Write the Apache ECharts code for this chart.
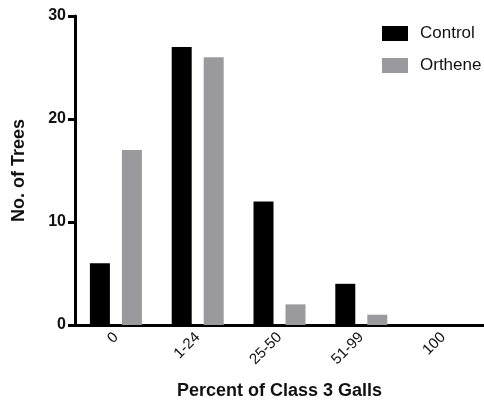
<!DOCTYPE html>
<html>
<head>
<meta charset="utf-8">
<script src="https://cdn.jsdelivr.net/npm/echarts@6/dist/echarts.min.js"></script>
<style>
  html, body { margin: 0; padding: 0; background: #fff; }
  #chart { width: 484px; height: 405px; }
</style>
</head>
<body>
<div id="chart"></div>
<script>
// Gall severity classes and tree counts per treatment
const categories = ['0', '1-24', '25-50', '51-99', '100'];
const controlTrees = [6, 27, 12, 4, 0];
const ortheneTrees = [17, 26, 2, 1, 0];
const yTicks = [0, 10, 20, 30];

const FONT = '"Liberation Sans", Arial, sans-serif';

const chart = echarts.init(document.getElementById('chart'));
chart.setOption({
  animation: false,
  backgroundColor: '#fff',
  textStyle: { fontFamily: FONT },
  legend: {
    left: 377,
    top: 20,
    orient: 'vertical',
    itemWidth: 26,
    itemHeight: 15,
    itemGap: 15,
    icon: 'rect',
    textStyle: { fontFamily: FONT, fontSize: 17, color: '#111', padding: [0, 0, 0, 7] },
    data: ['Control', 'Orthene']
  },
  grid: { left: 75, right: 0, top: 16, bottom: 80, containLabel: false },
  xAxis: {
    type: 'category',
    data: categories,
    name: 'Percent of Class 3 Galls',
    nameLocation: 'middle',
    nameGap: 57,
    nameTextStyle: { fontFamily: FONT, fontSize: 18, fontWeight: 'bold', color: '#111' },
    axisLine: { lineStyle: { color: '#000', width: 3 } },
    axisTick: { alignWithLabel: true, length: 6, lineStyle: { color: '#000', width: 3 } },
    axisLabel: { rotate: 45, margin: 10, fontFamily: FONT, fontSize: 15, color: '#111' }
  },
  yAxis: {
    type: 'value',
    min: 0,
    max: yTicks[yTicks.length - 1],
    interval: 10,
    name: 'No. of Trees',
    nameLocation: 'middle',
    nameGap: 47,
    nameTextStyle: { fontFamily: FONT, fontSize: 18, fontWeight: 'bold', color: '#111' },
    axisLine: { show: true, lineStyle: { color: '#000', width: 3 } },
    axisTick: { show: true, length: 7, lineStyle: { color: '#000', width: 3 } },
    axisLabel: { margin: 9, fontFamily: FONT, fontSize: 16, fontWeight: 'bold', color: '#111' },
    splitLine: { show: false }
  },
  series: [
    {
      name: 'Control',
      type: 'bar',
      data: controlTrees,
      barWidth: 20,
      barGap: '60%',
      itemStyle: { color: '#000' }
    },
    {
      name: 'Orthene',
      type: 'bar',
      data: ortheneTrees,
      barWidth: 20,
      itemStyle: { color: '#9a9a9e' }
    }
  ]
});
</script>
</body>
</html>
